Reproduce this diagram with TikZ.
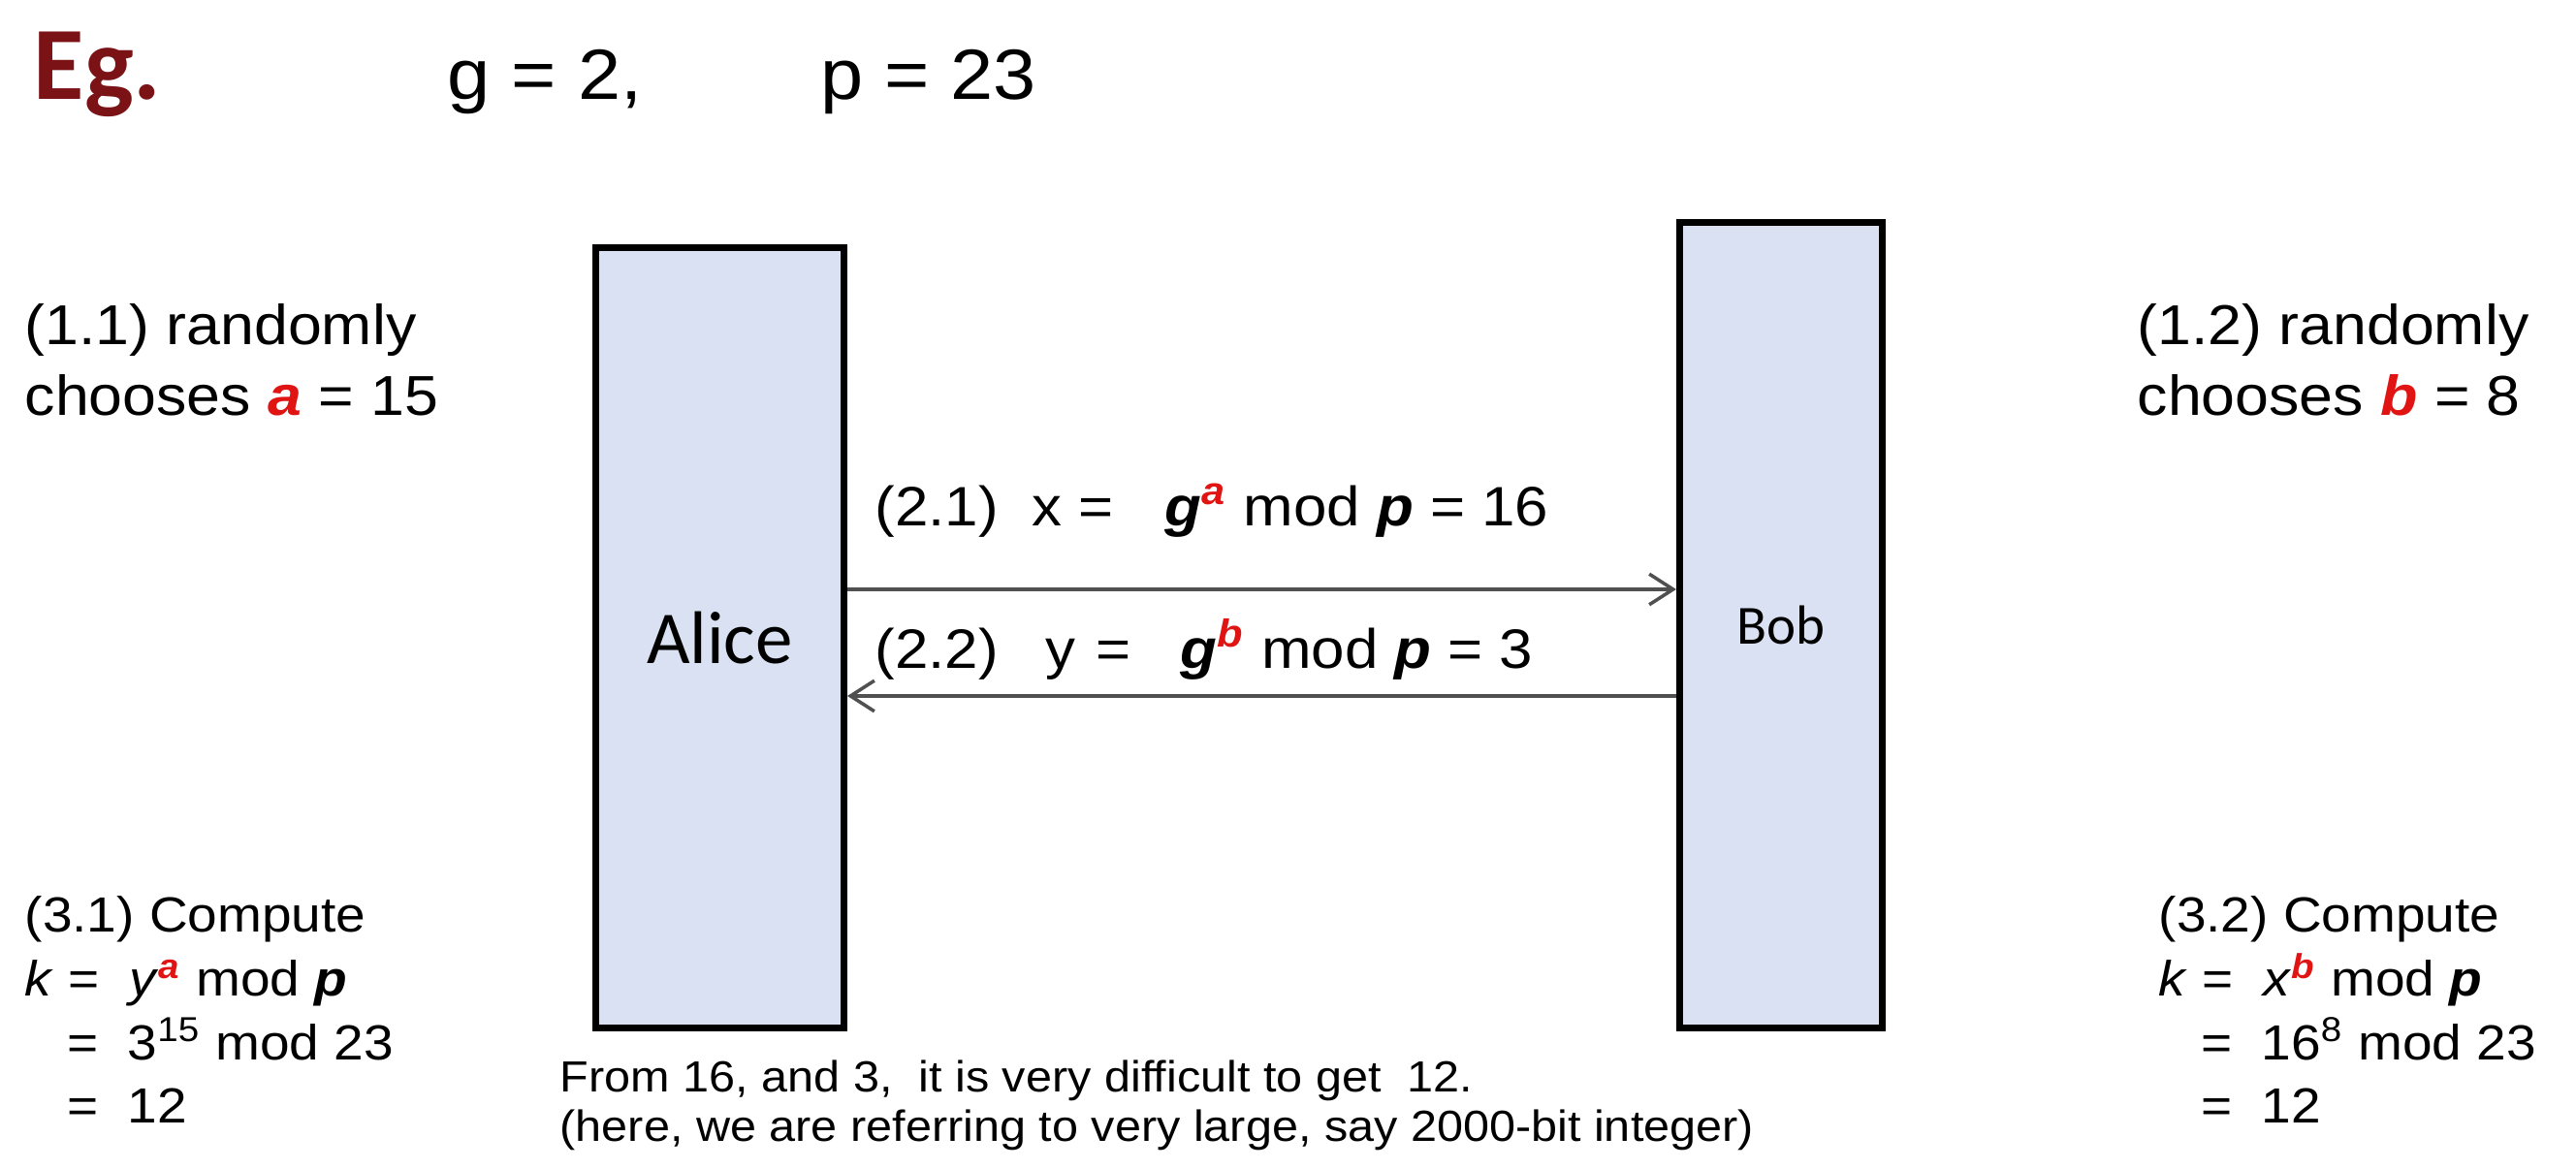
\documentclass[tikz,border=0pt]{standalone}
\usepackage{fontspec}
\setmainfont{Liberation Sans}[FakeStretch=1.08]
\newfontfamily\calibrifont{Carlito}
\usetikzlibrary{arrows.meta}
\definecolor{boxfill}{RGB}{217,225,242}
\definecolor{egred}{RGB}{122,18,22}
\definecolor{expred}{RGB}{225,20,20}
\definecolor{msggray}{RGB}{80,80,80}
\newcommand{\bfit}[1]{\textbf{\textit{#1}}}
\newcommand{\rexp}[1]{\textsuperscript{\bfit{\color{expred}#1}}}
\tikzset{party/.style = {draw, line width = 2pt, fill = boxfill, inner sep = 0},
  msg/.style = {draw = msggray, line width = 1pt, -{Straight Barb[length = 7pt, width = 9pt]}},
  txt/.style = {inner sep = 0, anchor = base west, align = left}}

\begin{document}
\begin{tikzpicture}
    \useasboundingbox (0, 0) rectangle (26.57, 12.06);

    \node [txt, font = \calibrifont\bfseries\fontsize{30.5}{36}\selectfont, text = egred] (eg) at (0.34, 11.03) {Eg.};
    \node [txt, font = \fontsize{20.9}{25}\selectfont] (params) at (4.61, 11.03) {g = 2,\hspace{1.84cm}p = 23};

    \node [party, minimum width = 2.56cm, minimum height = 8.05cm, font = \calibrifont\fontsize{21.9}{26}\selectfont] (alice) at (7.425, 5.48) {Alice};
    \node [party, minimum width = 2.09cm, minimum height = 8.31cm, font = \calibrifont\fontsize{16.2}{19}\selectfont] (bob) at (18.37, 5.61) {Bob};

    \coordinate (xfrom) at ([yshift = 5mm]alice.east);
    \coordinate (yfrom) at ([yshift = -7.3mm]bob.west);
    \draw [msg] (xfrom) -- (xfrom -| bob.west);
    \draw [msg] (yfrom) -- (yfrom -| alice.east);

    \node [txt, font = \fontsize{16.3}{19}\selectfont] (msgx) at (9.02, 6.63) {(2.1)\hspace{0.6em}x =\hspace{0.93em}\bfit{g}\rexp{a} mod \bfit{p} = 16};
    \node [txt, font = \fontsize{16.3}{19}\selectfont] (msgy) at (9.02, 5.16) {(2.2)\hspace{0.85em}y\hspace{0.37em}=\hspace{0.89em}\bfit{g}\rexp{b} mod \bfit{p} = 3};

    \node [txt, font = \fontsize{16.5}{20.8}\selectfont] (choosea) at (0.25, 7.77) {(1.1) randomly\\chooses \bfit{\color{expred}a} = 15};
    \node [txt, font = \fontsize{16.5}{20.8}\selectfont] (chooseb) at (22.04, 7.77) {(1.2) randomly\\chooses \bfit{\color{expred}b} = 8};

    \node [txt, font = \fontsize{14.5}{18.7}\selectfont] (keya) at (0.25, 0.47) {(3.1) Compute\\\textit{k} = \ \textit{y}\rexp{a} mod \bfit{p}\\\hspace*{0.85em}= \ 3\textsuperscript{15} mod 23\\\hspace*{0.85em}= \ 12};
    \node [txt, font = \fontsize{14.5}{18.7}\selectfont] (keyb) at (22.26, 0.47) {(3.2) Compute\\\textit{k} = \ \textit{x}\rexp{b} mod \bfit{p}\\\hspace*{0.85em}= \ 16\textsuperscript{8} mod 23\\\hspace*{0.85em}= \ 12};

    \node [txt, font = \fontsize{12.8}{14.6}\selectfont] (note) at (5.77, 0.28) {From 16, and 3, \ it is very difficult to get \ 12.\\(here, we are referring to very large, say 2000-bit integer)};
\end{tikzpicture}
\end{document}
